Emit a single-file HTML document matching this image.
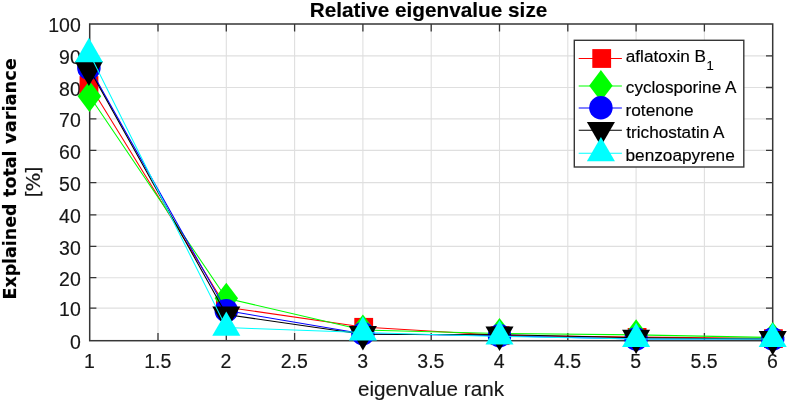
<!DOCTYPE html>
<html lang="en"><head><meta charset="utf-8"><title>Relative eigenvalue size</title>
<style>html,body{margin:0;padding:0;background:#fff;overflow:hidden}svg{display:block;filter:blur(0.55px)}text{font-family:'Liberation Sans', Arial, Helvetica, sans-serif;stroke-width:0.15px;stroke-linejoin:round;paint-order:stroke fill}</style></head><body>
<svg width="789" height="402" viewBox="0 0 789 402">
<rect width="789" height="402" fill="#fff"/>
<path d="M158.00 24.0 V340.7 M226.30 24.0 V340.7 M294.60 24.0 V340.7 M362.90 24.0 V340.7 M431.20 24.0 V340.7 M499.50 24.0 V340.7 M567.80 24.0 V340.7 M636.10 24.0 V340.7 M704.40 24.0 V340.7 M89.7 308.10 H772.7 M89.7 277.70 H772.7 M89.7 246.40 H772.7 M89.7 214.90 H772.7 M89.7 182.60 H772.7 M89.7 150.40 H772.7 M89.7 118.90 H772.7 M89.7 87.50 H772.7 M89.7 55.90 H772.7" stroke="#dfdfdf" stroke-width="1.1" fill="none"/>
<path d="M158.00 340.7 v-7.6 M158.00 24.0 v7.6 M226.30 340.7 v-7.6 M226.30 24.0 v7.6 M294.60 340.7 v-7.6 M294.60 24.0 v7.6 M362.90 340.7 v-7.6 M362.90 24.0 v7.6 M431.20 340.7 v-7.6 M431.20 24.0 v7.6 M499.50 340.7 v-7.6 M499.50 24.0 v7.6 M567.80 340.7 v-7.6 M567.80 24.0 v7.6 M636.10 340.7 v-7.6 M636.10 24.0 v7.6 M704.40 340.7 v-7.6 M704.40 24.0 v7.6 M89.7 308.10 h6.7 M772.7 308.10 h-6.7 M89.7 277.70 h6.7 M772.7 277.70 h-6.7 M89.7 246.40 h6.7 M772.7 246.40 h-6.7 M89.7 214.90 h6.7 M772.7 214.90 h-6.7 M89.7 182.60 h6.7 M772.7 182.60 h-6.7 M89.7 150.40 h6.7 M772.7 150.40 h-6.7 M89.7 118.90 h6.7 M772.7 118.90 h-6.7 M89.7 87.50 h6.7 M772.7 87.50 h-6.7 M89.7 55.90 h6.7 M772.7 55.90 h-6.7" stroke="#363636" stroke-width="1.3" fill="none"/>
<rect x="89.7" y="24.0" width="683.00" height="316.70" fill="none" stroke="#363636" stroke-width="1.5"/>
<text x="89.40" y="367.6" font-size="19.5" text-anchor="middle" fill="#161616" stroke="#161616">1</text>
<text x="157.70" y="367.6" font-size="19.5" text-anchor="middle" fill="#161616" stroke="#161616">1.5</text>
<text x="226.00" y="367.6" font-size="19.5" text-anchor="middle" fill="#161616" stroke="#161616">2</text>
<text x="294.30" y="367.6" font-size="19.5" text-anchor="middle" fill="#161616" stroke="#161616">2.5</text>
<text x="362.60" y="367.6" font-size="19.5" text-anchor="middle" fill="#161616" stroke="#161616">3</text>
<text x="430.90" y="367.6" font-size="19.5" text-anchor="middle" fill="#161616" stroke="#161616">3.5</text>
<text x="499.20" y="367.6" font-size="19.5" text-anchor="middle" fill="#161616" stroke="#161616">4</text>
<text x="567.50" y="367.6" font-size="19.5" text-anchor="middle" fill="#161616" stroke="#161616">4.5</text>
<text x="635.80" y="367.6" font-size="19.5" text-anchor="middle" fill="#161616" stroke="#161616">5</text>
<text x="704.10" y="367.6" font-size="19.5" text-anchor="middle" fill="#161616" stroke="#161616">5.5</text>
<text x="772.40" y="367.6" font-size="19.5" text-anchor="middle" fill="#161616" stroke="#161616">6</text>
<text x="80.8" y="348.80" font-size="19.5" text-anchor="end" fill="#161616" stroke="#161616">0</text>
<text x="80.8" y="316.20" font-size="19.5" text-anchor="end" fill="#161616" stroke="#161616">10</text>
<text x="80.8" y="285.80" font-size="19.5" text-anchor="end" fill="#161616" stroke="#161616">20</text>
<text x="80.8" y="254.50" font-size="19.5" text-anchor="end" fill="#161616" stroke="#161616">30</text>
<text x="80.8" y="223.00" font-size="19.5" text-anchor="end" fill="#161616" stroke="#161616">40</text>
<text x="80.8" y="190.70" font-size="19.5" text-anchor="end" fill="#161616" stroke="#161616">50</text>
<text x="80.8" y="158.50" font-size="19.5" text-anchor="end" fill="#161616" stroke="#161616">60</text>
<text x="80.8" y="127.00" font-size="19.5" text-anchor="end" fill="#161616" stroke="#161616">70</text>
<text x="80.8" y="95.60" font-size="19.5" text-anchor="end" fill="#161616" stroke="#161616">80</text>
<text x="80.8" y="64.00" font-size="19.5" text-anchor="end" fill="#161616" stroke="#161616">90</text>
<text x="80.8" y="32.10" font-size="19.5" text-anchor="end" fill="#161616" stroke="#161616">100</text>
<text x="309.72" y="16.7" font-size="21" font-weight="bold" fill="#000" stroke="#000" textLength="237.59" lengthAdjust="spacingAndGlyphs">Relative eigenvalue size</text>
<text x="357.92" y="395.9" font-size="20" font-weight="normal" fill="#161616" stroke="#161616" textLength="146.10" lengthAdjust="spacingAndGlyphs">eigenvalue rank</text>
<text transform="translate(15.8 299.52) rotate(-90)" font-size="17.7" font-weight="bold" fill="#000" stroke="#000" textLength="96.07" lengthAdjust="spacingAndGlyphs" style="font-family:'DejaVu Sans', Verdana, sans-serif">Explained</text>
<text transform="translate(15.8 196.95) rotate(-90)" font-size="17.7" font-weight="bold" fill="#000" stroke="#000" textLength="46.49" lengthAdjust="spacingAndGlyphs" style="font-family:'DejaVu Sans', Verdana, sans-serif">total</text>
<text transform="translate(15.8 143.95) rotate(-90)" font-size="17.7" font-weight="bold" fill="#000" stroke="#000" textLength="85.82" lengthAdjust="spacingAndGlyphs" style="font-family:'DejaVu Sans', Verdana, sans-serif">variance</text>
<text transform="translate(39.8 197.6) rotate(-90)" font-size="20" fill="#161616" stroke="#161616" textLength="31.1" lengthAdjust="spacing" style="font-family:'DejaVu Sans', Verdana, sans-serif">[%]</text>
<polyline points="89.70,85.22 226.30,307.16 362.90,327.01 499.50,335.33 636.10,337.11 772.70,338.31" fill="none" stroke="#ff0000" stroke-width="1.05"/>
<rect x="79.55" y="76.12" width="18.8" height="18.8" fill="#ff0000"/>
<rect x="216.00" y="298.06" width="18.8" height="18.8" fill="#ff0000"/>
<rect x="354.30" y="317.91" width="18.8" height="18.8" fill="#ff0000"/>
<rect x="490.70" y="326.23" width="18.8" height="18.8" fill="#ff0000"/>
<rect x="627.70" y="328.01" width="18.8" height="18.8" fill="#ff0000"/>
<rect x="764.00" y="329.21" width="18.8" height="18.8" fill="#ff0000"/>
<polyline points="89.70,96.30 226.30,298.29 362.90,330.02 499.50,333.50 636.10,334.89 772.70,337.49" fill="none" stroke="#00ff00" stroke-width="1.05"/>
<polygon points="89.45,80.70 101.20,96.30 89.45,111.90 77.70,96.30" fill="#00ff00"/>
<polygon points="226.30,282.69 238.05,298.29 226.30,313.89 214.55,298.29" fill="#00ff00"/>
<polygon points="362.90,314.42 374.65,330.02 362.90,345.62 351.15,330.02" fill="#00ff00"/>
<polygon points="499.50,317.90 511.25,333.50 499.50,349.10 487.75,333.50" fill="#00ff00"/>
<polygon points="636.10,319.29 647.85,334.89 636.10,350.49 624.35,334.89" fill="#00ff00"/>
<polygon points="772.70,321.89 784.45,337.49 772.70,353.09 760.95,337.49" fill="#00ff00"/>
<polyline points="89.70,68.12 226.30,310.64 362.90,333.75 499.50,335.75 636.10,338.91 772.70,338.91" fill="none" stroke="#0000ff" stroke-width="1.05"/>
<circle cx="88.90" cy="68.12" r="11.75" fill="#0000ff"/>
<circle cx="226.30" cy="310.64" r="11.75" fill="#0000ff"/>
<circle cx="362.90" cy="333.75" r="11.75" fill="#0000ff"/>
<circle cx="499.50" cy="335.75" r="11.75" fill="#0000ff"/>
<circle cx="636.10" cy="338.91" r="11.75" fill="#0000ff"/>
<circle cx="772.70" cy="338.91" r="11.75" fill="#0000ff"/>
<polyline points="89.70,69.71 226.30,314.60 362.90,334.19 499.50,334.70 636.10,337.80 772.70,339.01" fill="none" stroke="#000000" stroke-width="1.05"/>
<polygon points="74.87,61.61 102.93,61.61 88.90,85.91" fill="#000000"/>
<polygon points="212.27,306.50 240.33,306.50 226.30,330.80" fill="#000000"/>
<polygon points="348.87,326.09 376.93,326.09 362.90,350.39" fill="#000000"/>
<polygon points="485.47,326.60 513.53,326.60 499.50,350.90" fill="#000000"/>
<polygon points="622.07,329.70 650.13,329.70 636.10,354.00" fill="#000000"/>
<polygon points="758.67,330.91 786.73,330.91 772.70,355.21" fill="#000000"/>
<polyline points="89.70,54.04 226.30,327.61 362.90,332.48 499.50,336.41 636.10,338.91 772.70,339.01" fill="none" stroke="#00ffff" stroke-width="1.05"/>
<polygon points="74.87,62.14 102.93,62.14 88.90,37.84" fill="#00ffff"/>
<polygon points="212.27,335.71 240.33,335.71 226.30,311.41" fill="#00ffff"/>
<polygon points="348.87,340.58 376.93,340.58 362.90,316.28" fill="#00ffff"/>
<polygon points="485.47,344.51 513.53,344.51 499.50,320.21" fill="#00ffff"/>
<polygon points="622.07,347.01 650.13,347.01 636.10,322.71" fill="#00ffff"/>
<polygon points="758.67,347.11 786.73,347.11 772.70,322.81" fill="#00ffff"/>
<rect x="574.3" y="40.3" width="169.50" height="126.70" fill="#fff" stroke="#363636" stroke-width="1.4"/>
<path d="M578.7 58.4 H621.9" stroke="#ff0000" stroke-width="1.05"/>
<rect x="592.30" y="49.10" width="18.8" height="18.8" fill="#ff0000"/>
<text x="625.79" y="61.8" font-size="16" font-weight="normal" fill="#000" stroke="#000" textLength="80.28" lengthAdjust="spacingAndGlyphs">aflatoxin B</text>
<path d="M578.7 85.9 H621.9" stroke="#00ff00" stroke-width="1.05"/>
<polygon points="600.90,70.10 612.65,85.70 600.90,101.30 589.15,85.70" fill="#00ff00"/>
<text x="625.80" y="92.9" font-size="16" font-weight="normal" fill="#000" stroke="#000" textLength="110.69" lengthAdjust="spacingAndGlyphs">cyclosporine A</text>
<path d="M578.7 107.9 H621.9" stroke="#0000ff" stroke-width="1.05"/>
<circle cx="600.90" cy="107.70" r="11.75" fill="#0000ff"/>
<text x="625.52" y="116.1" font-size="16" font-weight="normal" fill="#000" stroke="#000" textLength="68.10" lengthAdjust="spacingAndGlyphs">rotenone</text>
<path d="M578.7 130.3 H621.9" stroke="#000000" stroke-width="1.05"/>
<polygon points="586.87,122.00 614.93,122.00 600.90,146.30" fill="#000000"/>
<text x="626.33" y="138.2" font-size="16" font-weight="normal" fill="#000" stroke="#000" textLength="98.19" lengthAdjust="spacingAndGlyphs">trichostatin A</text>
<path d="M578.7 153.3 H621.9" stroke="#00ffff" stroke-width="1.05"/>
<polygon points="586.87,161.20 614.93,161.20 600.90,136.90" fill="#00ffff"/>
<text x="625.52" y="160.8" font-size="16" font-weight="normal" fill="#000" stroke="#000" textLength="109.20" lengthAdjust="spacingAndGlyphs">benzoapyrene</text>
<text x="706.6" y="69.7" font-size="13" fill="#000" stroke="#000">1</text>
</svg></body></html>
